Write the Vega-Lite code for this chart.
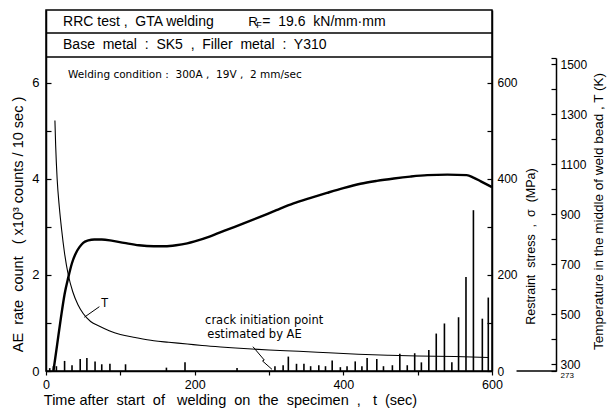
{
  "$schema": "https://vega.github.io/schema/vega-lite/v6.json",
  "width": 446,
  "height": 361,
  "autosize": {"type": "none"},
  "padding": {"left": 46, "top": 10, "right": 120, "bottom": 43},
  "background": "white",
  "config": {
    "font": "Liberation Sans",
    "view": {"stroke": "black", "strokeWidth": 1.5},
    "axis": {
      "grid": false,
      "domainColor": "black",
      "domainWidth": 1.5,
      "tickColor": "black",
      "tickWidth": 1.2,
      "labelColor": "black",
      "titleColor": "black",
      "labelFont": "Liberation Sans",
      "titleFont": "Liberation Sans",
      "titleFontWeight": "normal"
    }
  },
  "datasets": {
    "header": [{"level": 7.04}, {"level": 6.54}],
    "ae": [
      {"t": 5, "ae": 0.06}, {"t": 10, "ae": 0.1}, {"t": 14, "ae": 0.1}, {"t": 25, "ae": 0.21},
      {"t": 35, "ae": 0.12}, {"t": 46, "ae": 0.25}, {"t": 55, "ae": 0.27}, {"t": 66, "ae": 0.2},
      {"t": 75, "ae": 0.14}, {"t": 86, "ae": 0.15}, {"t": 107, "ae": 0.14}, {"t": 162, "ae": 0.07},
      {"t": 187, "ae": 0.18}, {"t": 257, "ae": 0.06}, {"t": 308, "ae": 0.1}, {"t": 319, "ae": 0.12},
      {"t": 326, "ae": 0.3}, {"t": 337, "ae": 0.15}, {"t": 347, "ae": 0.15}, {"t": 356, "ae": 0.1},
      {"t": 367, "ae": 0.12}, {"t": 376, "ae": 0.1}, {"t": 385, "ae": 0.22}, {"t": 396, "ae": 0.08},
      {"t": 405, "ae": 0.1}, {"t": 416, "ae": 0.2}, {"t": 425, "ae": 0.1}, {"t": 432, "ae": 0.27},
      {"t": 445, "ae": 0.25}, {"t": 454, "ae": 0.1}, {"t": 466, "ae": 0.12}, {"t": 476, "ae": 0.36},
      {"t": 486, "ae": 0.12}, {"t": 496, "ae": 0.37}, {"t": 505, "ae": 0.18}, {"t": 515, "ae": 0.44},
      {"t": 525, "ae": 0.78}, {"t": 536, "ae": 0.99}, {"t": 546, "ae": 0.18}, {"t": 555, "ae": 1.12},
      {"t": 565, "ae": 1.96}, {"t": 575, "ae": 3.35}, {"t": 587, "ae": 1.09}, {"t": 595, "ae": 1.53}
    ],
    "stress": [
      {"t": 10, "sigma": 0}, {"t": 15, "sigma": 55}, {"t": 20, "sigma": 110}, {"t": 25, "sigma": 160},
      {"t": 30, "sigma": 195}, {"t": 35, "sigma": 225}, {"t": 40, "sigma": 245}, {"t": 45, "sigma": 258},
      {"t": 50, "sigma": 267}, {"t": 57, "sigma": 272}, {"t": 65, "sigma": 274}, {"t": 75, "sigma": 274},
      {"t": 90, "sigma": 271}, {"t": 105, "sigma": 267}, {"t": 125, "sigma": 262}, {"t": 145, "sigma": 260},
      {"t": 160, "sigma": 260}, {"t": 175, "sigma": 262}, {"t": 190, "sigma": 266}, {"t": 200, "sigma": 270},
      {"t": 220, "sigma": 280}, {"t": 243, "sigma": 294}, {"t": 265, "sigma": 307}, {"t": 288, "sigma": 321},
      {"t": 310, "sigma": 335}, {"t": 333, "sigma": 349}, {"t": 355, "sigma": 360}, {"t": 378, "sigma": 371},
      {"t": 400, "sigma": 381}, {"t": 423, "sigma": 390}, {"t": 445, "sigma": 396}, {"t": 468, "sigma": 401},
      {"t": 490, "sigma": 405}, {"t": 513, "sigma": 408}, {"t": 540, "sigma": 409}, {"t": 566, "sigma": 408},
      {"t": 575, "sigma": 403}, {"t": 585, "sigma": 395}, {"t": 600, "sigma": 383}
    ],
    "temp": [
      {"t": 12, "kelvin": 1275}, {"t": 13, "kelvin": 1175}, {"t": 15, "kelvin": 1041}, {"t": 18, "kelvin": 926},
      {"t": 21, "kelvin": 839}, {"t": 25, "kelvin": 743}, {"t": 30, "kelvin": 657}, {"t": 36, "kelvin": 590},
      {"t": 43, "kelvin": 538}, {"t": 50, "kelvin": 503}, {"t": 60, "kelvin": 471}, {"t": 72, "kelvin": 452},
      {"t": 85, "kelvin": 434}, {"t": 100, "kelvin": 419}, {"t": 120, "kelvin": 407}, {"t": 145, "kelvin": 394},
      {"t": 165, "kelvin": 388}, {"t": 190, "kelvin": 381}, {"t": 210, "kelvin": 375}, {"t": 235, "kelvin": 369},
      {"t": 255, "kelvin": 365}, {"t": 300, "kelvin": 357}, {"t": 340, "kelvin": 352}, {"t": 380, "kelvin": 346},
      {"t": 420, "kelvin": 340}, {"t": 460, "kelvin": 336}, {"t": 500, "kelvin": 333}, {"t": 550, "kelvin": 331},
      {"t": 595, "kelvin": 327}
    ],
    "base273": [{"t0": 633, "t1": 687, "kelvin": 273}],
    "bigtext": [
      {"tx": 22.9, "ty": 7.27, "label": "RRC test\u00a0,\u00a0 GTA welding"},
      {"tx": 22.9, "ty": 6.79, "label": "Base\u00a0 metal\u00a0 :\u00a0 SK5\u00a0 ,\u00a0 Filler\u00a0 metal\u00a0 :\u00a0 Y310"}
    ],
    "rtext": [{"tx": 272, "ty": 7.27, "label": "R"}],
    "ftext": [{"tx": 283, "ty": 7.2, "label": "F"}],
    "rftext": [{"tx": 291, "ty": 7.27, "label": "=\u00a0 19.6\u00a0 kN/mm·mm"}],
    "weldtext": [
      {"tx": 29.6, "ty": 6.17, "label": "Welding condition\u00a0:\u00a0 300A\u00a0,\u00a0 19V\u00a0,\u00a0 2 mm/sec"}
    ],
    "cracktext": [
      {"tx": 214, "ty": 1.04, "label": "crack initiation point"},
      {"tx": 217, "ty": 0.75, "label": "estimated by AE"}
    ],
    "ttext": [{"tx": 74, "ty": 1.42, "label": "T"}],
    "pointers": [
      {"id": "T", "o": 1, "tx": 71.8, "ty": 1.34},
      {"id": "T", "o": 2, "tx": 51.6, "ty": 1.12},
      {"id": "crack", "o": 1, "tx": 278.4, "ty": 0.506},
      {"id": "crack", "o": 2, "tx": 293.6, "ty": 0.229},
      {"id": "crack", "o": 3, "tx": 291.3, "ty": 0.208},
      {"id": "crack", "o": 4, "tx": 304, "ty": 0.035}
    ]
  },
  "layer": [
    {
      "data": {"name": "ae"},
      "mark": {"type": "rule", "color": "black", "strokeWidth": 1.6},
      "encoding": {
        "x": {
          "field": "t", "type": "quantitative",
          "scale": {"domain": [0, 600], "nice": false},
          "axis": {
            "values": [0, 100, 200, 300, 400, 500, 600],
            "format": "d",
            "labelExpr": "datum.value % 200 === 0 ? datum.label : ''",
            "labelFlush": false,
            "tickSize": 4,
            "labelPadding": 3,
            "labelFontSize": 12.5,
            "title": "Time after\u00a0 start\u00a0 of\u00a0 \u00a0welding\u00a0 on\u00a0 the\u00a0 specimen\u00a0 ,\u00a0 \u00a0t\u00a0 (sec)",
            "titleFontSize": 14.5,
            "titleX": 184,
            "titleY": 29,
            "titleBaseline": "middle",
            "titleAlign": "center"
          }
        },
        "y": {
          "field": "ae", "type": "quantitative",
          "scale": {"domain": [0, 7.52], "nice": false},
          "axis": {
            "orient": "left",
            "values": [0, 1, 2, 3, 4, 5, 6],
            "format": "d",
            "labelExpr": "datum.value % 2 === 0 ? datum.label : ''",
            "tickSize": -5,
            "labelPadding": 12,
            "labelFontSize": 13,
            "labelFlush": false,
            "title": "AE\u00a0 rate\u00a0 count\u00a0 \u00a0( x10³ counts / 10 sec )",
            "titleFontSize": 14.5,
            "titleAngle": 270,
            "titleX": -28,
            "titleY": 214,
            "titleBaseline": "middle",
            "titleAlign": "center"
          }
        },
        "y2": {"datum": 0}
      }
    },
    {
      "data": {"name": "header"},
      "mark": {"type": "rule", "color": "black", "strokeWidth": 1.5},
      "encoding": {
        "y": {"field": "level", "type": "quantitative", "scale": {"domain": [0, 7.52], "nice": false}, "axis": null}
      }
    },
    {
      "data": {"name": "pointers"},
      "mark": {"type": "line", "color": "black", "strokeWidth": 1},
      "encoding": {
        "x": {"field": "tx", "type": "quantitative", "scale": {"domain": [0, 600], "nice": false}},
        "y": {"field": "ty", "type": "quantitative", "scale": {"domain": [0, 7.52], "nice": false}, "axis": null},
        "detail": {"field": "id"},
        "order": {"field": "o"}
      }
    },
    {
      "data": {"name": "bigtext"},
      "mark": {"type": "text", "align": "left", "baseline": "middle", "fontSize": 14, "color": "black"},
      "encoding": {
        "x": {"field": "tx", "type": "quantitative", "scale": {"domain": [0, 600], "nice": false}},
        "y": {"field": "ty", "type": "quantitative", "scale": {"domain": [0, 7.52], "nice": false}, "axis": null},
        "text": {"field": "label"}
      }
    },
    {
      "data": {"name": "rtext"},
      "mark": {"type": "text", "align": "left", "baseline": "middle", "fontSize": 13.5, "color": "black"},
      "encoding": {
        "x": {"field": "tx", "type": "quantitative", "scale": {"domain": [0, 600], "nice": false}},
        "y": {"field": "ty", "type": "quantitative", "scale": {"domain": [0, 7.52], "nice": false}, "axis": null},
        "text": {"field": "label"}
      }
    },
    {
      "data": {"name": "ftext"},
      "mark": {"type": "text", "align": "left", "baseline": "middle", "fontSize": 9, "color": "black"},
      "encoding": {
        "x": {"field": "tx", "type": "quantitative", "scale": {"domain": [0, 600], "nice": false}},
        "y": {"field": "ty", "type": "quantitative", "scale": {"domain": [0, 7.52], "nice": false}, "axis": null},
        "text": {"field": "label"}
      }
    },
    {
      "data": {"name": "rftext"},
      "mark": {"type": "text", "align": "left", "baseline": "middle", "fontSize": 14, "color": "black"},
      "encoding": {
        "x": {"field": "tx", "type": "quantitative", "scale": {"domain": [0, 600], "nice": false}},
        "y": {"field": "ty", "type": "quantitative", "scale": {"domain": [0, 7.52], "nice": false}, "axis": null},
        "text": {"field": "label"}
      }
    },
    {
      "data": {"name": "weldtext"},
      "mark": {"type": "text", "align": "left", "baseline": "middle", "fontSize": 10.5, "font": "DejaVu Sans", "color": "black"},
      "encoding": {
        "x": {"field": "tx", "type": "quantitative", "scale": {"domain": [0, 600], "nice": false}},
        "y": {"field": "ty", "type": "quantitative", "scale": {"domain": [0, 7.52], "nice": false}, "axis": null},
        "text": {"field": "label"}
      }
    },
    {
      "data": {"name": "cracktext"},
      "mark": {"type": "text", "align": "left", "baseline": "middle", "fontSize": 11.5, "font": "DejaVu Sans", "color": "black"},
      "encoding": {
        "x": {"field": "tx", "type": "quantitative", "scale": {"domain": [0, 600], "nice": false}},
        "y": {"field": "ty", "type": "quantitative", "scale": {"domain": [0, 7.52], "nice": false}, "axis": null},
        "text": {"field": "label"}
      }
    },
    {
      "data": {"name": "ttext"},
      "mark": {"type": "text", "align": "left", "baseline": "middle", "fontSize": 12, "color": "black"},
      "encoding": {
        "x": {"field": "tx", "type": "quantitative", "scale": {"domain": [0, 600], "nice": false}},
        "y": {"field": "ty", "type": "quantitative", "scale": {"domain": [0, 7.52], "nice": false}, "axis": null},
        "text": {"field": "label"}
      }
    },
    {
      "data": {"name": "stress"},
      "mark": {"type": "line", "color": "black", "strokeWidth": 2.4, "interpolate": "monotone"},
      "encoding": {
        "x": {"field": "t", "type": "quantitative", "scale": {"domain": [0, 600], "nice": false}},
        "y": {
          "field": "sigma", "type": "quantitative",
          "scale": {"domain": [0, 752], "nice": false},
          "axis": {
            "orient": "right",
            "values": [0, 100, 200, 300, 400, 500, 600],
            "format": "d",
            "labelExpr": "datum.value % 200 === 0 ? datum.label : ''",
            "tickSize": -5,
            "labelPadding": 10,
            "labelFontSize": 12,
            "labelFlush": false,
            "title": "Restraint\u00a0 stress\u00a0 ,\u00a0 σ\u00a0 (MPa)",
            "titleFontSize": 12.5,
            "titleAngle": 270,
            "titleX": 38,
            "titleY": 236,
            "titleBaseline": "middle",
            "titleAlign": "center"
          }
        }
      }
    },
    {
      "data": {"name": "temp"},
      "mark": {"type": "line", "color": "black", "strokeWidth": 1.1, "interpolate": "monotone"},
      "encoding": {
        "x": {"field": "t", "type": "quantitative", "scale": {"domain": [0, 600], "nice": false}},
        "y": {
          "field": "kelvin", "type": "quantitative",
          "scale": {"domain": [273, 1525], "range": [361, 48], "nice": false, "zero": false},
          "axis": {
            "orient": "right",
            "offset": 64,
            "values": [273, 300, 400, 500, 600, 700, 800, 900, 1000, 1100, 1200, 1300, 1400, 1500, 1525],
            "format": "d",
            "labelExpr": "(datum.value - 300) % 200 === 0 ? datum.label : (datum.value === 273 ? '273' : '')",
            "labelFontSize": {"condition": {"test": "datum.value === 273", "value": 8}, "value": 12},
            "labelBaseline": {"condition": {"test": "datum.value === 273", "value": "top"}, "value": "middle"},
            "labelOverlap": false,
            "labelFlush": false,
            "tickSize": -5,
            "labelPadding": 9,
            "title": "Temperature in the middle of weld bead , T (K)",
            "titleFontSize": 13.5,
            "titleAngle": 270,
            "titleX": 42,
            "titleY": 201,
            "titleBaseline": "middle",
            "titleAlign": "center"
          }
        }
      }
    },
    {
      "data": {"name": "base273"},
      "mark": {"type": "rule", "color": "black", "strokeWidth": 1.3},
      "encoding": {
        "x": {"field": "t0", "type": "quantitative", "scale": {"domain": [0, 600], "nice": false}},
        "x2": {"field": "t1"},
        "y": {"field": "kelvin", "type": "quantitative", "scale": {"domain": [273, 1525], "range": [361, 48], "nice": false, "zero": false}, "axis": null}
      }
    }
  ],
  "resolve": {"scale": {"y": "independent"}, "axis": {"y": "independent"}}
}
